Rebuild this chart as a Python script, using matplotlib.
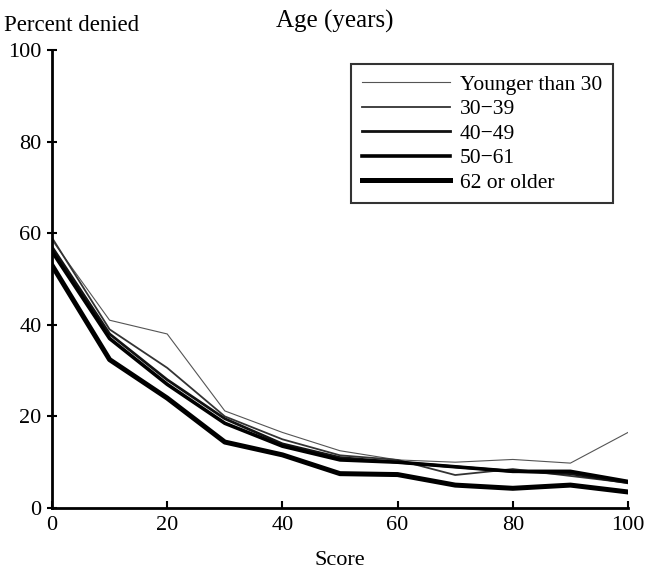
import matplotlib.pyplot as plt

plt.rcParams['font.family'] = ['Liberation Serif', 'DejaVu Serif']

scores = [0, 10, 20, 30, 40, 50, 60, 70, 80, 90, 100]
age_groups = ['Younger than 30', '30\u221239', '40\u221249', '50\u221261', '62 or older']

# percent denied by score, one list per age group
under_30 = [58.5, 41, 38, 21.2, 16.5, 12.5, 10.5, 10, 10.6, 9.8, 16.5]
age_30_39 = [59, 39, 30.6, 20, 15, 11.5, 10.5, 7.2, 8.5, 7, 5.5]
age_40_49 = [57, 38, 28, 19.5, 14, 11, 10, 9, 8, 7.5, 5.5]
age_50_61 = [56, 37, 27, 18.5, 13.5, 10.5, 10, 9, 8, 8, 5.8]
age_62_up = [53, 32.4, 24, 14.4, 11.6, 7.5, 7.3, 5, 4.3, 5, 3.5]

series = [under_30, age_30_39, age_40_49, age_50_61, age_62_up]
widths = [0.8, 1.3, 2.0, 2.6, 3.6]
colors = ['#555555', '#333333', '#111111', '#000000', '#000000']

fig = plt.figure(figsize=(6.48, 5.73), dpi=100)
ax = fig.add_axes([52 / 648, 1 - 508 / 573, 576 / 648, 458 / 573])

for vals, name, lw, c in zip(series, age_groups, widths, colors):
    ax.plot(scores, vals, color=c, lw=lw, label=name, solid_joinstyle='round')

ax.set_xlim(0, 100)
ax.set_ylim(0, 100)
ax.set_xticks([0, 20, 40, 60, 80, 100])
ax.set_yticks([0, 20, 40, 60, 80, 100])
ax.spines['top'].set_visible(False)
ax.spines['right'].set_visible(False)
ax.spines['left'].set_linewidth(2)
ax.spines['bottom'].set_linewidth(2)
ax.tick_params(axis='x', direction='in', length=5, width=1.5, labelsize=16, pad=6)
ax.tick_params(axis='y', direction='inout', length=7, width=1.5, labelsize=16, pad=4)

ax.set_xlabel('Score', fontsize=16, labelpad=11)
fig.text(0.006, 0.955, 'Percent denied', fontsize=16.5, ha='left', va='center')
fig.text(0.517, 0.962, 'Age (years)', fontsize=18, ha='center', va='center')

leg = ax.legend(loc='upper right', bbox_to_anchor=(0.974, 0.969), fontsize=15.5,
                frameon=True, fancybox=False, edgecolor='black',
                handlelength=4.1, handletextpad=0.45, labelspacing=0.2,
                borderpad=0.5, borderaxespad=0)
leg.get_frame().set_linewidth(1.5)

fig.savefig('out.png', dpi=100)
